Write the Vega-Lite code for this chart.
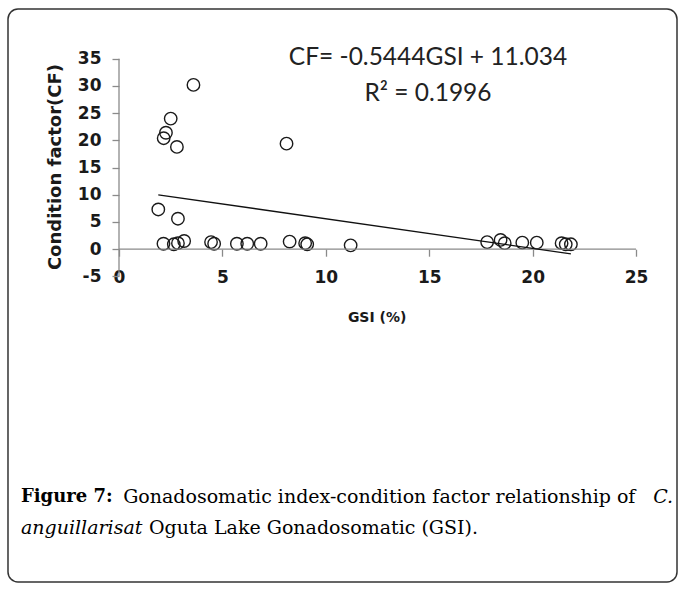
{
  "$schema": "https://vega.github.io/schema/vega-lite/v6.json",
  "width": 669,
  "height": 573,
  "autosize": "none",
  "padding": {"left": 8, "top": 9, "right": 3, "bottom": 14},
  "background": "white",
  "config": {
    "view": {"stroke": "#333333", "strokeWidth": 1.5, "cornerRadius": 10},
    "axis": {"grid": false, "domain": false}
  },
  "datasets": {
    "points": [
      {"GSI": 3.6, "CF": 30.2}, {"GSI": 2.5, "CF": 24.0}, {"GSI": 2.27, "CF": 21.4},
      {"GSI": 2.16, "CF": 20.4}, {"GSI": 2.8, "CF": 18.8}, {"GSI": 8.1, "CF": 19.4},
      {"GSI": 1.9, "CF": 7.3}, {"GSI": 2.85, "CF": 5.6},
      {"GSI": 2.15, "CF": 1.0}, {"GSI": 2.65, "CF": 0.9}, {"GSI": 2.85, "CF": 1.1},
      {"GSI": 3.15, "CF": 1.5}, {"GSI": 4.45, "CF": 1.3}, {"GSI": 4.6, "CF": 1.0},
      {"GSI": 5.7, "CF": 1.0}, {"GSI": 6.2, "CF": 1.0}, {"GSI": 6.85, "CF": 1.0},
      {"GSI": 8.25, "CF": 1.4}, {"GSI": 9.0, "CF": 1.1}, {"GSI": 9.1, "CF": 0.9},
      {"GSI": 11.2, "CF": 0.7}, {"GSI": 17.8, "CF": 1.3}, {"GSI": 18.45, "CF": 1.7},
      {"GSI": 18.65, "CF": 1.1}, {"GSI": 19.5, "CF": 1.2}, {"GSI": 20.2, "CF": 1.2},
      {"GSI": 21.4, "CF": 1.1}, {"GSI": 21.6, "CF": 0.9}, {"GSI": 21.85, "CF": 0.9}
    ],
    "trend": [
      {"GSI": 1.9, "CF": 10.0},
      {"GSI": 21.85, "CF": -0.86}
    ],
    "one": [{}]
  },
  "layer": [
    {
      "data": {"name": "points"},
      "mark": {"type": "point", "shape": "circle", "size": 155, "filled": false, "stroke": "#1a1a1a", "strokeWidth": 1.4, "opacity": 1},
      "encoding": {
        "x": {
          "field": "GSI", "type": "quantitative",
          "scale": {"domain": [-5.367, 26.98], "nice": false, "zero": false},
          "axis": {
            "title": null, "values": [0, 5, 10, 15, 20, 25], "orient": "bottom", "offset": -332.8,
            "tickSize": 7, "tickColor": "#8a8a8a", "tickWidth": 1.3,
            "labelFont": "DejaVu Sans", "labelFontWeight": "bold", "labelFontSize": 17, "labelColor": "#1a1a1a",
            "labelPadding": 13, "labelExpr": "'' + datum.value"
          }
        },
        "y": {
          "field": "CF", "type": "quantitative",
          "scale": {"domain": [-61.18, 44.15], "nice": false, "zero": false},
          "axis": {
            "title": null, "values": [-5, 0, 5, 10, 15, 20, 25, 30, 35], "orient": "left", "offset": -111,
            "tickSize": 7, "tickColor": "#8a8a8a", "tickWidth": 1.3,
            "labelFont": "DejaVu Sans", "labelFontWeight": "bold", "labelFontSize": 17, "labelColor": "#1a1a1a",
            "labelPadding": 11, "labelExpr": "'' + datum.value"
          }
        }
      }
    },
    {
      "data": {"name": "one"},
      "mark": {"type": "rule", "color": "#8a8a8a", "strokeWidth": 1.3},
      "encoding": {"x": {"datum": 0, "type": "quantitative"}, "y": {"datum": -5, "type": "quantitative"}, "y2": {"datum": 35}}
    },
    {
      "data": {"name": "one"},
      "mark": {"type": "rule", "color": "#8a8a8a", "strokeWidth": 1.3},
      "encoding": {"y": {"datum": 0, "type": "quantitative"}, "x": {"datum": 0, "type": "quantitative"}, "x2": {"datum": 25}}
    },
    {
      "data": {"name": "trend"},
      "mark": {"type": "line", "color": "#111111", "strokeWidth": 1.3},
      "encoding": {"x": {"field": "GSI", "type": "quantitative"}, "y": {"field": "CF", "type": "quantitative"}}
    },
    {
      "data": {"name": "one"},
      "mark": {"type": "text", "font": "Lato", "fontSize": 24.5, "color": "#222222", "align": "center", "baseline": "middle", "text": "CF= -0.5444GSI + 11.034"},
      "encoding": {"x": {"datum": 14.94, "type": "quantitative"}, "y": {"datum": 35.1, "type": "quantitative"}}
    },
    {
      "data": {"name": "one"},
      "mark": {"type": "text", "font": "Lato", "fontSize": 24.5, "color": "#222222", "align": "center", "baseline": "middle", "text": "R² = 0.1996"},
      "encoding": {"x": {"datum": 14.94, "type": "quantitative"}, "y": {"datum": 28.5, "type": "quantitative"}}
    },
    {
      "data": {"name": "one"},
      "mark": {"type": "text", "font": "DejaVu Sans", "fontWeight": "bold", "fontSize": 18, "color": "#1a1a1a", "align": "center", "baseline": "middle", "angle": 270, "text": "Condition factor(CF)"},
      "encoding": {"x": {"datum": -3.05, "type": "quantitative"}, "y": {"datum": 15.1, "type": "quantitative"}}
    },
    {
      "data": {"name": "one"},
      "mark": {"type": "text", "font": "DejaVu Sans", "fontWeight": "bold", "fontSize": 14, "color": "#1a1a1a", "align": "center", "baseline": "middle", "text": "GSI (%)"},
      "encoding": {"x": {"datum": 12.48, "type": "quantitative"}, "y": {"datum": -12.65, "type": "quantitative"}}
    },
    {
      "data": {"name": "one"},
      "mark": {"type": "text", "font": "DejaVu Serif", "fontWeight": "bold", "fontSize": 18, "color": "#000000", "align": "left", "baseline": "middle", "text": "Figure 7:"},
      "encoding": {"x": {"datum": -4.74, "type": "quantitative"}, "y": {"datum": -45.55, "type": "quantitative"}}
    },
    {
      "data": {"name": "one"},
      "mark": {"type": "text", "font": "DejaVu Serif", "fontSize": 19, "color": "#000000", "align": "left", "baseline": "middle", "text": "Gonadosomatic index-condition factor relationship of"},
      "encoding": {"x": {"datum": 0.2, "type": "quantitative"}, "y": {"datum": -45.55, "type": "quantitative"}}
    },
    {
      "data": {"name": "one"},
      "mark": {"type": "text", "font": "DejaVu Serif", "fontStyle": "italic", "fontSize": 19, "color": "#000000", "align": "right", "baseline": "middle", "text": "C."},
      "encoding": {"x": {"datum": 26.79, "type": "quantitative"}, "y": {"datum": -45.55, "type": "quantitative"}}
    },
    {
      "data": {"name": "one"},
      "mark": {"type": "text", "font": "DejaVu Serif", "fontStyle": "italic", "fontSize": 19, "color": "#000000", "align": "left", "baseline": "middle", "text": "anguillarisat"},
      "encoding": {"x": {"datum": -4.74, "type": "quantitative"}, "y": {"datum": -51.25, "type": "quantitative"}}
    },
    {
      "data": {"name": "one"},
      "mark": {"type": "text", "font": "DejaVu Serif", "fontSize": 19, "color": "#000000", "align": "left", "baseline": "middle", "text": "Oguta Lake Gonadosomatic (GSI)."},
      "encoding": {"x": {"datum": 1.45, "type": "quantitative"}, "y": {"datum": -51.25, "type": "quantitative"}}
    }
  ]
}
